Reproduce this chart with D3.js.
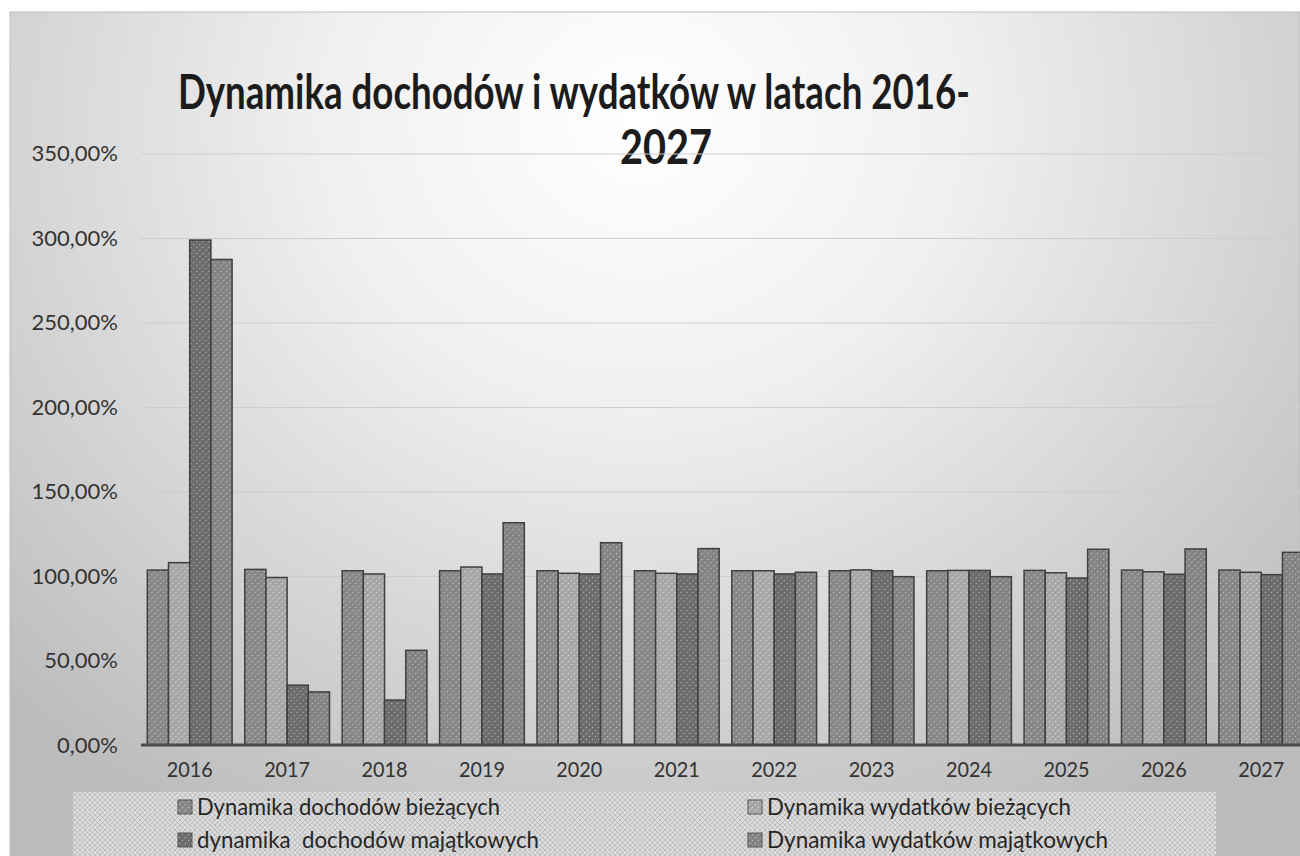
<!doctype html>
<html>
  <head>
    <meta charset="UTF-8">
    <script src="https://cdnjs.cloudflare.com/ajax/libs/d3/7.8.5/d3.min.js"></script>
    <style>
      body { margin: 0; background: #fff; }
      svg { display: block; }
    </style>
  </head>
  <body>
    <div id="graphic"></div>
    <script>

// data
var years = ["2016","2017","2018","2019","2020","2021","2022","2023","2024","2025","2026","2027"];
var dochodyBiezace = [103.5,103.9,103.1,103.1,103.1,103.1,103.1,103.1,103.1,103.3,103.5,103.5];
var wydatkiBiezace = [107.9,99.1,101.2,105.3,101.6,101.6,103.1,103.6,103.3,101.9,102.5,102.2];
var dochodyMajatkowe = [298.8,35.4,26.6,101.2,101.2,101.2,101.2,103.1,103.3,98.8,101.0,100.8];
var wydatkiMajatkowe = [287.3,31.4,56.0,131.5,119.7,116.2,102.2,99.6,99.6,115.8,116.0,114.0];
var seriesNames = ["Dynamika dochodów bieżących","Dynamika wydatków bieżących","dynamika  dochodów majątkowych","Dynamika wydatków majątkowych"];
var yTicks = [0,50,100,150,200,250,300,350];

var seriesValues = [dochodyBiezace, wydatkiBiezace, dochodyMajatkowe, wydatkiMajatkowe];
var fills = ["#8b8b8b", "#ababab", "#6f6f6f", "#878787"];

var width = 1300, height = 856;

var svg = d3.select("#graphic").append("svg")
  .attr("width", width)
  .attr("height", height);

var defs = svg.append("defs");

// background gradient, scanned look
var grad = defs.append("radialGradient")
  .attr("id", "bg")
  .attr("gradientUnits", "userSpaceOnUse")
  .attr("cx", 640).attr("cy", 120).attr("r", 900)
  .attr("fx", 640).attr("fy", 120)
  .attr("gradientTransform", "translate(640,120) scale(1,0.9) translate(-640,-120)");
grad.append("stop").attr("offset", "0%").attr("stop-color", "#ffffff");
grad.append("stop").attr("offset", "35%").attr("stop-color", "#f0f0f0");
grad.append("stop").attr("offset", "65%").attr("stop-color", "#d8d8d8");
grad.append("stop").attr("offset", "100%").attr("stop-color", "#bcbcbc");

// speckled pattern for the bars
fills.forEach(function(c, i){
  var p = defs.append("pattern")
    .attr("id", "pat" + i)
    .attr("patternUnits", "userSpaceOnUse")
    .attr("width", 6).attr("height", 6);
  p.append("rect").attr("width", 6).attr("height", 6).attr("fill", c);
  p.append("rect").attr("x", 1).attr("y", 1).attr("width", 1).attr("height", 1).attr("fill", "#fff").attr("opacity", 0.55);
  p.append("rect").attr("x", 4).attr("y", 4).attr("width", 1).attr("height", 1).attr("fill", "#fff").attr("opacity", 0.45);
  p.append("path").attr("d", "M0,6L6,0").attr("stroke", "#000").attr("stroke-opacity", 0.08).attr("stroke-width", 1);
});

// crosshatch for the legend box
var hatch = defs.append("pattern")
  .attr("id", "hatch")
  .attr("patternUnits", "userSpaceOnUse")
  .attr("width", 5).attr("height", 5);
hatch.append("rect").attr("width", 5).attr("height", 5).attr("fill", "#dcdcdc");
hatch.append("path").attr("d", "M0,0L5,5M5,0L0,5").attr("stroke", "#b4b4b4").attr("stroke-width", 0.8);

// chart background
svg.append("rect")
  .attr("x", 10).attr("y", 12)
  .attr("width", width - 10).attr("height", height - 12)
  .attr("fill", "url(#bg)")
  .attr("stroke", "#bdbdbd");

// scales
var x0 = d3.scaleBand().domain(years).range([141, 1310]).paddingInner(0.13).paddingOuter(0.065);
var x1 = d3.scaleBand().domain(d3.range(4)).range([0, x0.bandwidth()]);
var y = d3.scaleLinear().domain([0, 350]).range([745, 153.5]);

// Title
svg.append("text")
  .attr("x", 574).attr("y", 109)
  .attr("text-anchor", "middle")
  .attr("textLength", 792).attr("lengthAdjust", "spacingAndGlyphs")
  .style("font-family", "Lato")
  .style("font-weight", "bold")
  .style("font-size", "47px")
  .style("fill", "#1c1c1c")
  .text("Dynamika dochodów i wydatków w latach 2016-");
svg.append("text")
  .attr("x", 666).attr("y", 164)
  .attr("text-anchor", "middle")
  .attr("textLength", 92).attr("lengthAdjust", "spacingAndGlyphs")
  .style("font-family", "Lato")
  .style("font-weight", "bold")
  .style("font-size", "47px")
  .style("fill", "#1c1c1c")
  .text("2027");

// grid
svg.append("g")
  .attr("class", "grid")
  .attr("transform", "translate(141,0)")
  .call(d3.axisLeft(y).tickValues(yTicks).tickSize(-(width - 141)).tickFormat(""))
  .call(g => g.select(".domain").remove())
  .call(g => g.selectAll("line").attr("stroke", "#cdcdcd").attr("stroke-width", 1));

// y axis labels
svg.append("g")
  .attr("transform", "translate(141,0)")
  .call(d3.axisLeft(y).tickValues(yTicks).tickSize(0).tickPadding(23)
    .tickFormat(d => d.toFixed(2).replace(".", ",") + "%"))
  .call(g => g.select(".domain").remove())
  .call(g => g.selectAll("text")
    .style("font-family", "Lato")
    .style("font-size", "22px")
    .style("fill", "#333"));

// bars
var groups = svg.append("g")
  .selectAll("g")
  .data(years)
  .enter()
  .append("g")
    .attr("transform", d => "translate(" + x0(d) + ",0)");

groups.selectAll("rect")
  .data((d, i) => seriesValues.map((s, k) => ({k: k, v: s[i]})))
  .enter()
  .append("rect")
    .attr("x", d => x1(d.k))
    .attr("y", d => y(d.v))
    .attr("width", x1.bandwidth())
    .attr("height", d => y(0) - y(d.v))
    .attr("fill", d => "url(#pat" + d.k + ")")
    .attr("stroke", "#3f3f3f")
    .attr("stroke-width", 1.5);

// x axis
svg.append("g")
  .attr("transform", "translate(0," + y(0) + ")")
  .call(d3.axisBottom(x0).tickSize(0).tickPadding(16))
  .call(g => g.select(".domain").attr("stroke", "#4a4a4a").attr("stroke-width", 3)
    .attr("d", "M141,0H" + width))
  .call(g => g.selectAll("text")
    .attr("textLength", 46).attr("lengthAdjust", "spacingAndGlyphs")
    .style("font-family", "Lato")
    .style("font-size", "22px")
    .style("fill", "#333"));

// legend
svg.append("rect")
  .attr("x", 73).attr("y", 792)
  .attr("width", 1143).attr("height", 64)
  .attr("fill", "url(#hatch)");

var legendPos = [[178, 815, 303], [748, 815, 304], [178, 848, 342], [748, 848, 341]];
var legend = svg.append("g")
  .selectAll("g")
  .data(seriesNames)
  .enter()
  .append("g")
    .attr("transform", (d, i) => "translate(" + legendPos[i][0] + "," + legendPos[i][1] + ")");

legend.append("rect")
  .attr("x", 0).attr("y", -15)
  .attr("width", 14).attr("height", 14)
  .attr("fill", (d, i) => "url(#pat" + i + ")")
  .attr("stroke", "#555")
  .attr("stroke-width", 1);

legend.append("text")
  .attr("x", 19).attr("y", 0)
  .attr("textLength", (d, i) => legendPos[i][2])
  .attr("lengthAdjust", "spacingAndGlyphs")
  .style("white-space", "pre")
  .style("font-family", "Lato")
  .style("font-size", "23px")
  .style("fill", "#262626")
  .text(d => d);

    </script>
  </body>
</html>
